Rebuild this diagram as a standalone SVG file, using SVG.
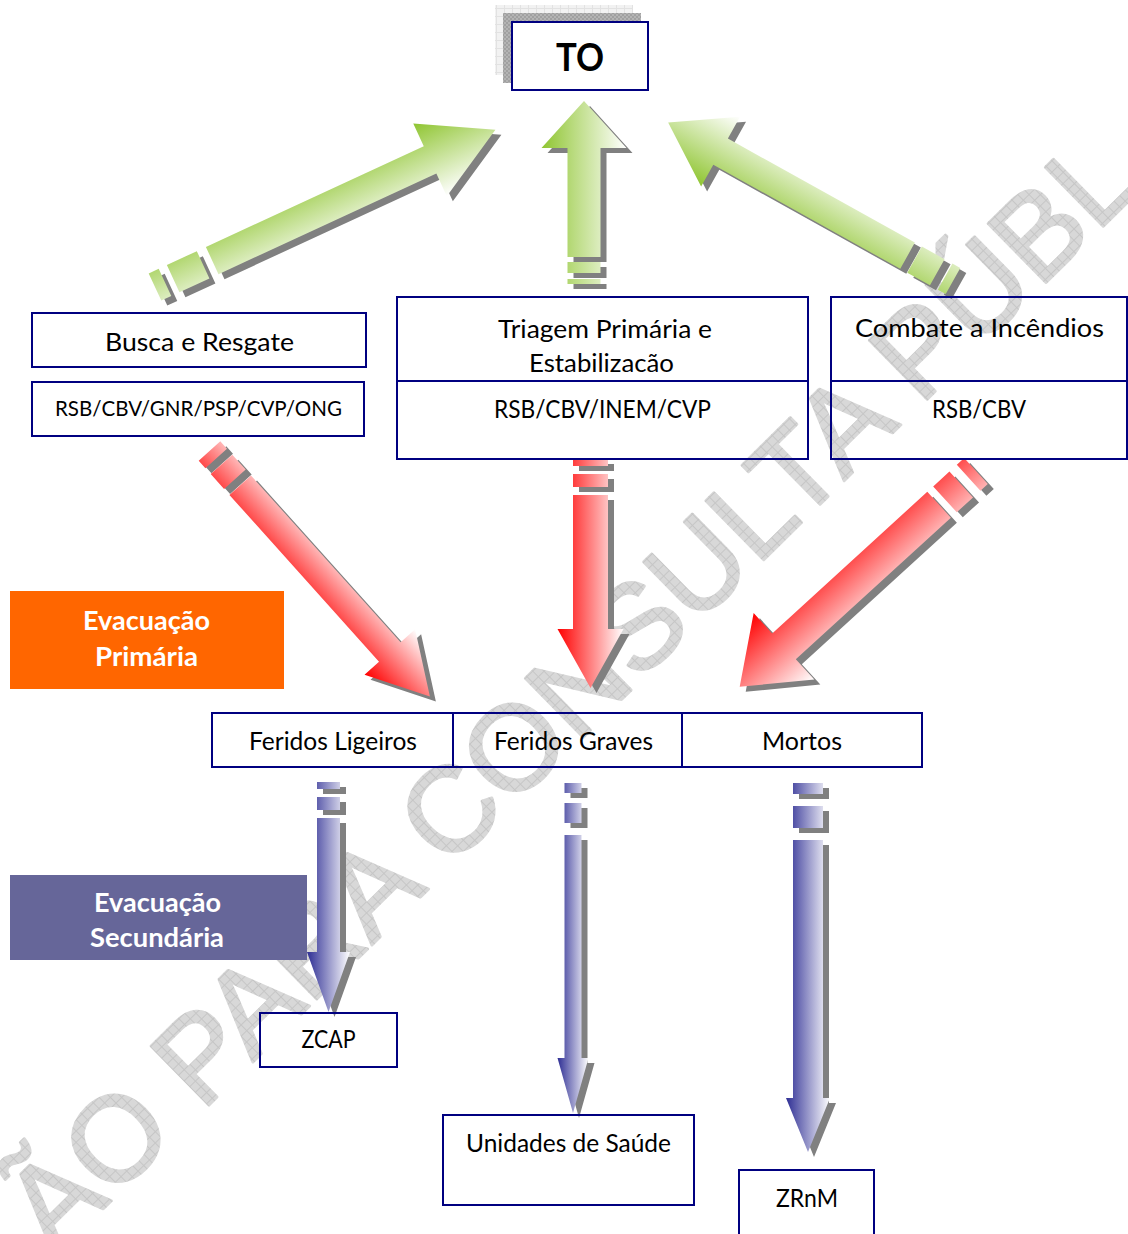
<svg xmlns="http://www.w3.org/2000/svg" xmlns:xlink="http://www.w3.org/1999/xlink" width="1128" height="1234" viewBox="0 0 1128 1234">
<style>
.box{fill:none;stroke:#000080;stroke-width:2}
.t{font-family:Lato,"Liberation Sans",sans-serif;font-size:25px;fill:#000;text-anchor:middle}
.s{font-size:22px}
.w{font-family:Lato,"Liberation Sans",sans-serif;font-weight:bold;font-size:27px;fill:#fff;text-anchor:middle}
.sh{fill:#808080}
.wm{font-family:"Liberation Sans",Arial,sans-serif;font-size:120px;fill:url(#wm);stroke:url(#wm);stroke-width:3;stroke-linejoin:round}
</style>
<defs>
<pattern id="wm" width="8" height="8" patternUnits="userSpaceOnUse"><rect width="8" height="8" fill="#d8d8d8"/><path d="M0,0.5H8M0.5,0V8" stroke="#c6c6c6" stroke-width="1"/></pattern>
<pattern id="lt" width="8" height="8" patternUnits="userSpaceOnUse"><rect width="8" height="8" fill="#f2f2f2"/><path d="M0,0.5H8M0.5,0V8" stroke="#e2e2e2" stroke-width="1"/></pattern>
<pattern id="dk" width="4" height="4" patternUnits="userSpaceOnUse"><rect width="4" height="4" fill="#b4b4b4"/><rect width="2" height="2" fill="#a0a0a0"/><rect x="2" y="2" width="2" height="2" fill="#a0a0a0"/></pattern>
<linearGradient id="gG" x1="0" y1="0" x2="0" y2="1"><stop offset="0" stop-color="#8fc531"/><stop offset="1" stop-color="#ffffff"/></linearGradient>
<linearGradient id="gR" x1="0" y1="0" x2="0" y2="1"><stop offset="0" stop-color="#ffffff"/><stop offset="1" stop-color="#ff0000"/></linearGradient>
<linearGradient id="gB" x1="0" y1="0" x2="0" y2="1"><stop offset="0" stop-color="#ffffff"/><stop offset="1" stop-color="#2e2e94"/></linearGradient>
<path id="aG1" d="M0,-15H11V15H0Z M20,-15H53V15H20Z M63,-15H303V-40L375,0L303,40V15H63Z"/>
<path id="aG2" d="M0,-16.5H5V16.5H0Z M11,-16.5H22V16.5H11Z M27,-16.5H136V-42.5L183,0L136,42.5V16.5H27Z"/>
<path id="aG3" d="M0,-15H9V15H0Z M18,-15H44V15H18Z M52,-15H266V-40L326,0L266,40V15H52Z"/>
<path id="aR1" d="M0,-14.5H10V14.5H0Z M18,-14.5H38V14.5H18Z M46,-14.5H270V-34L330,0L270,34V14.5H46Z"/>
<path id="aR2" d="M0,-17.5H7V17.5H0Z M15,-17.5H28V17.5H15Z M36,-17.5H170V-33L229,0L170,33V17.5H36Z"/>
<path id="aR3" d="M0,-17.5H10V17.5H0Z M20,-17.5H42V17.5H20Z M50,-17.5H260V-45L320,0L260,45V17.5H50Z"/>
<path id="aB1" d="M0,-11.5H7V11.5H0Z M15,-11.5H28V11.5H15Z M36,-11.5H170V-21.5L230,0L170,21.5V11.5H36Z"/>
<path id="aB2" d="M0,-8.5H10V8.5H0Z M20,-8.5H40V8.5H20Z M52,-8.5H275V-15.5L330,0L275,15.5V8.5H52Z"/>
<path id="aB3" d="M0,-15H11V15H0Z M23,-15H45V15H23Z M57,-15H315V-22L369,0L315,22V15H57Z"/>
</defs>
<rect width="1128" height="1234" fill="#fff"/>
<g id="watermark">
<text class="wm" transform="translate(115,1137) rotate(-44.5)" x="-127" y="43">ÃO PARA CONSULTA PÚBL</text>
</g>
<g id="connectors">
<use href="#aG1" class="sh" transform="translate(161,292) rotate(-24.8)"/>
<use href="#aG1" fill="url(#gG)" transform="translate(155,287) rotate(-24.8)"/>
<use href="#aG2" class="sh" transform="translate(590,289) rotate(-90)"/>
<use href="#aG2" fill="url(#gG)" transform="translate(584,284) rotate(-90)"/>
<use href="#aG3" class="sh" transform="translate(959,286) rotate(-150.9)"/>
<use href="#aG3" fill="url(#gG)" transform="translate(953,281) rotate(-150.9)"/>
<use href="#aR1" class="sh" transform="translate(215.5,456) rotate(48.1)"/>
<use href="#aR1" fill="url(#gR)" transform="translate(209.5,451) rotate(48.1)"/>
<use href="#aR2" class="sh" transform="translate(596.5,464) rotate(90)"/>
<use href="#aR2" fill="url(#gR)" transform="translate(590.5,459) rotate(90)"/>
<use href="#aR3" class="sh" transform="translate(982,476) rotate(137.6)"/>
<use href="#aR3" fill="url(#gR)" transform="translate(976,471) rotate(137.6)"/>
<use href="#aB1" class="sh" transform="translate(334.5,787) rotate(90)"/>
<use href="#aB1" fill="url(#gB)" transform="translate(328.5,782) rotate(90)"/>
<use href="#aB2" class="sh" transform="translate(579,788) rotate(90)"/>
<use href="#aB2" fill="url(#gB)" transform="translate(573,783) rotate(90)"/>
<use href="#aB3" class="sh" transform="translate(814,788) rotate(90)"/>
<use href="#aB3" fill="url(#gB)" transform="translate(808,783) rotate(90)"/>
</g>
<g id="to">
<rect x="495" y="5" width="138" height="70" fill="url(#lt)"/>
<rect x="503" y="13" width="138" height="70" fill="url(#dk)"/>
<rect x="512" y="22" width="136" height="68" fill="#fff" stroke="#000080" stroke-width="2"/>
<text x="580" y="71" font-family="Lato,'Liberation Sans',sans-serif" font-weight="bold" font-size="38" text-anchor="middle" textLength="48" lengthAdjust="spacingAndGlyphs">TO</text>
</g>
<g id="busca">
<rect class="box" x="32" y="313" width="334" height="54"/>
<text class="t" x="199.5" y="351" textLength="189" lengthAdjust="spacingAndGlyphs">Busca e Resgate</text>
</g>
<g id="busca-ent">
<rect class="box" x="32" y="382" width="332" height="54"/>
<text class="t s" x="198.5" y="416" textLength="287" lengthAdjust="spacingAndGlyphs">RSB/CBV/GNR/PSP/CVP/ONG</text>
</g>
<g id="triagem">
<rect class="box" x="397" y="297" width="411" height="162"/>
<line x1="397" y1="381" x2="808" y2="381" stroke="#000080" stroke-width="2"/>
<text class="t" x="605" y="338" textLength="214" lengthAdjust="spacingAndGlyphs">Triagem Primária e</text>
<text class="t" x="601.5" y="372" textLength="145" lengthAdjust="spacingAndGlyphs">Estabilizacão</text>
<text class="t" x="602.5" y="418" textLength="217" lengthAdjust="spacingAndGlyphs">RSB/CBV/INEM/CVP</text>
</g>
<g id="combate">
<rect class="box" x="831" y="297" width="296" height="162"/>
<line x1="831" y1="381" x2="1127" y2="381" stroke="#000080" stroke-width="2"/>
<text class="t" x="979.5" y="337" textLength="249" lengthAdjust="spacingAndGlyphs">Combate a Incêndios</text>
<text class="t" x="979" y="418" textLength="94" lengthAdjust="spacingAndGlyphs">RSB/CBV</text>
</g>
<g id="evac-primaria">
<rect x="10" y="591" width="274" height="98" fill="#ff6600"/>
<text class="w" x="146.5" y="630" textLength="127" lengthAdjust="spacingAndGlyphs">Evacuação</text>
<text class="w" x="146.5" y="666" textLength="103" lengthAdjust="spacingAndGlyphs">Primária</text>
</g>
<g id="feridos-ligeiros">
<rect class="box" x="212" y="713" width="241" height="54"/>
<text class="t" x="333" y="750" textLength="168" lengthAdjust="spacingAndGlyphs">Feridos Ligeiros</text>
</g>
<g id="feridos-graves">
<rect class="box" x="453" y="713" width="229" height="54"/>
<text class="t" x="573.5" y="750" textLength="159" lengthAdjust="spacingAndGlyphs">Feridos Graves</text>
</g>
<g id="mortos">
<rect class="box" x="682" y="713" width="240" height="54"/>
<text class="t" x="802" y="750" textLength="80" lengthAdjust="spacingAndGlyphs">Mortos</text>
</g>
<g id="evac-secundaria">
<rect x="10" y="875" width="297" height="85" fill="#666699"/>
<text class="w" x="157.5" y="912" textLength="127" lengthAdjust="spacingAndGlyphs">Evacuação</text>
<text class="w" x="157" y="947" textLength="134" lengthAdjust="spacingAndGlyphs">Secundária</text>
</g>
<g id="zcap">
<rect class="box" x="260" y="1013" width="137" height="54"/>
<text class="t" x="328.5" y="1048" textLength="54" lengthAdjust="spacingAndGlyphs">ZCAP</text>
</g>
<g id="unidades">
<rect class="box" x="443" y="1115" width="251" height="90"/>
<text class="t" x="568.5" y="1152" textLength="205" lengthAdjust="spacingAndGlyphs">Unidades de Saúde</text>
</g>
<g id="zrnm">
<rect class="box" x="739" y="1170" width="135" height="80"/>
<text class="t" x="807" y="1207" textLength="62" lengthAdjust="spacingAndGlyphs">ZRnM</text>
</g>
</svg>
